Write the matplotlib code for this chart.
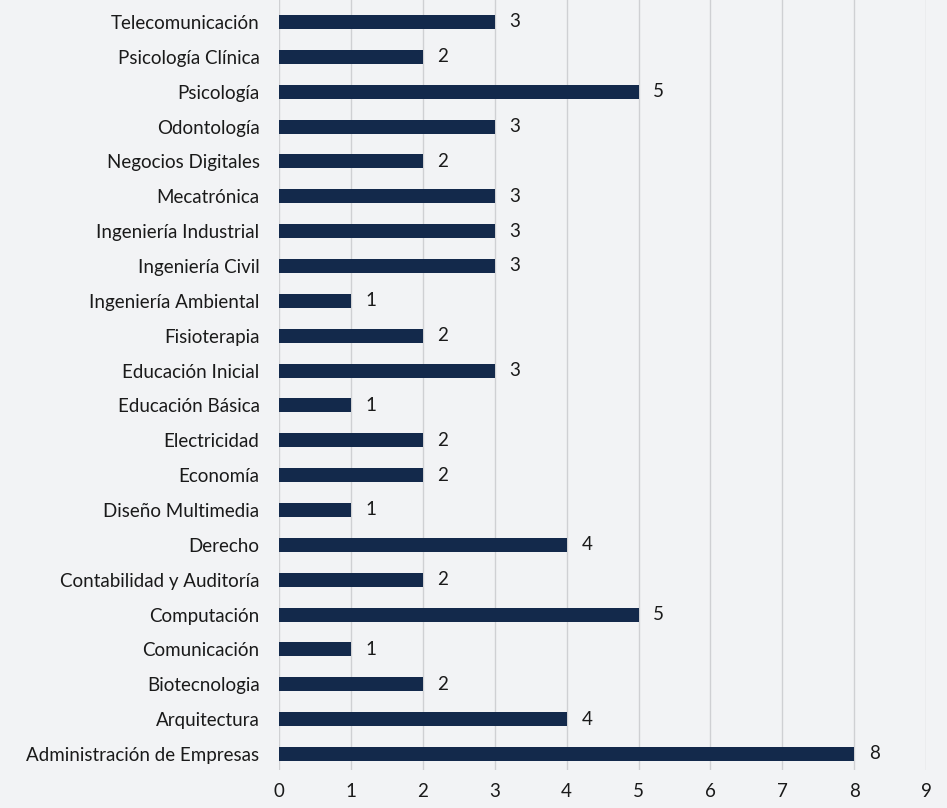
import matplotlib.pyplot as plt
import numpy as np

careers = ['Administración de Empresas', 'Arquitectura', 'Biotecnologia', 'Comunicación',
           'Computación', 'Contabilidad y Auditoría', 'Derecho', 'Diseño Multimedia',
           'Economía', 'Electricidad', 'Educación Básica', 'Educación Inicial',
           'Fisioterapia', 'Ingeniería Ambiental', 'Ingeniería Civil', 'Ingeniería Industrial',
           'Mecatrónica', 'Negocios Digitales', 'Odontología', 'Psicología',
           'Psicología Clínica', 'Telecomunicación']
counts = [8, 4, 2, 1, 5, 2, 4, 1, 2, 2, 1, 3, 2, 1, 3, 3, 3, 2, 3, 5, 2, 3]

plt.rcParams['font.family'] = ['Lato', 'DejaVu Sans']
bg = '#f2f3f5'
navy = '#13294b'

fig = plt.figure(figsize=(9.47, 8.08), dpi=100, facecolor=bg)
ax = fig.add_axes([0.2946, 0.047, 0.6834, 0.953], facecolor=bg)

y = np.arange(len(careers))
ax.barh(y, counts, height=0.4, color=navy, zorder=3)
for yi, v in zip(y, counts):
    ax.text(v + 0.28, yi, str(v), va='center', ha='center', fontsize=13.5, color='#1a1a1a')

ax.set_xlim(0, 9)
ax.set_ylim(-0.46, 21.63)
ax.set_xticks(range(10))
ax.set_yticks(y)
ax.set_yticklabels(careers)
ax.tick_params(axis='both', length=0, labelsize=13.5, colors='#1a1a1a')
ax.tick_params(axis='x', pad=9)
ax.tick_params(axis='y', pad=14)
ax.xaxis.grid(True, color='#cfd0d3', linewidth=1, zorder=0)
for s in ax.spines.values():
    s.set_visible(False)

plt.savefig('out.png', dpi=100, facecolor=bg)
